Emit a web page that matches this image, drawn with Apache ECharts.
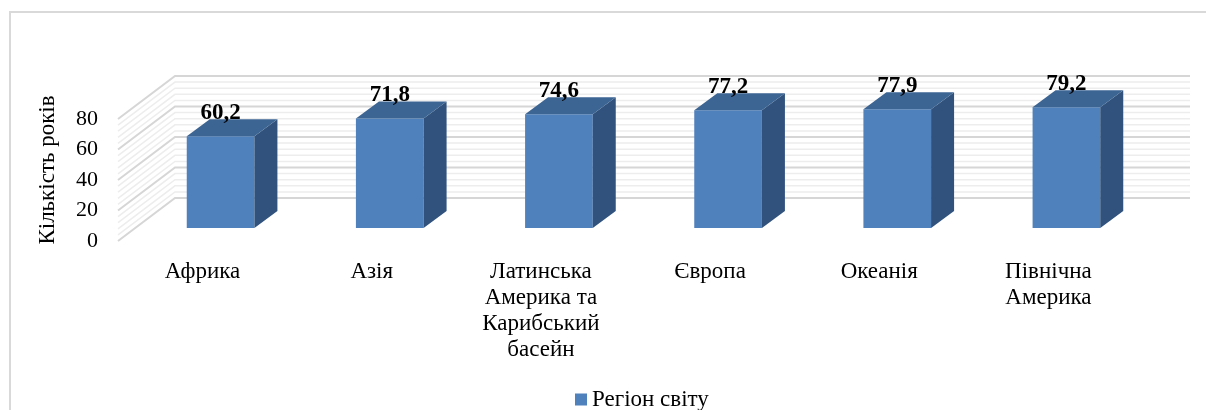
<!DOCTYPE html>
<html>
<head>
<meta charset="utf-8">
<script src="https://cdn.jsdelivr.net/npm/echarts@6/dist/echarts.min.js"></script>
<style>
  html, body { margin: 0; padding: 0; background: #fff; }
  #chart { width: 1206px; height: 410px; }
</style>
</head>
<body>
<div id="chart"></div>
<script>
// data
const categories = ['Африка', 'Азія', 'Латинська\nАмерика та\nКарибський\nбасейн', 'Європа', 'Океанія', 'Північна\nАмерика'];
const lifeYears = [60.2, 71.8, 74.6, 77.2, 77.9, 79.2];
const seriesName = 'Регіон світу';
const yTicks = [0, 20, 40, 60, 80];

// 3d look (pixels)
const WALL_DX = 57, WALL_DY = -43;     // front plane -> back wall
const FRONT_DX = 18, FRONT_DY = -13;   // front plane -> bar front face
const BAR_DX = 23, BAR_DY = -17;       // bar depth
const BAR_RATIO = 0.40;
const FRONT = '#4F81BD', SIDE = '#31527C', TOP = '#3C6593';
const FONT = '"Liberation Serif", "Times New Roman", serif';

const chart = echarts.init(document.getElementById('chart'));

// gridlines on the side and back walls (major on ticks, minor every 4)
const wallLines = [];
for (let v = 0; v <= 80; v += 4) wallLines.push([0, v]);

function renderWall(params, api) {
    const v = api.value(1);
    const p = api.coord([0, v]);
    const band = api.size([1, 0])[0];
    const left = p[0] - band / 2;
    const right = left + band * categories.length;
    const major = yTicks.indexOf(v) >= 0;
    return {
        type: 'polyline',
        shape: { points: [[left, p[1]], [left + WALL_DX, p[1] + WALL_DY], [right + WALL_DX, p[1] + WALL_DY]] },
        style: { stroke: major ? '#d6d6d6' : '#ededed', lineWidth: major ? 2 : 1.5, fill: null }
    };
}

function renderBar(params, api) {
    const i = api.value(0), v = api.value(1);
    const top = api.coord([i, v]);
    const base = api.coord([i, 0]);
    const band = api.size([1, 0])[0];
    const w = band * BAR_RATIO;
    const x0 = top[0] - w / 2 + FRONT_DX, x1 = x0 + w;
    const yT = top[1] + FRONT_DY, yB = base[1] + FRONT_DY;
    return {
        type: 'group',
        children: [
            { type: 'polygon', shape: { points: [[x0, yB], [x1, yB], [x1, yT], [x0, yT]] }, style: { fill: FRONT } },
            { type: 'polygon', shape: { points: [[x1, yB], [x1 + BAR_DX, yB + BAR_DY], [x1 + BAR_DX, yT + BAR_DY], [x1, yT]] }, style: { fill: SIDE } },
            { type: 'polygon', shape: { points: [[x0, yT], [x1, yT], [x1 + BAR_DX, yT + BAR_DY], [x0 + BAR_DX, yT + BAR_DY]] }, style: { fill: TOP } },
            {
                type: 'text',
                z2: 10,
                style: {
                    text: v.toFixed(1).replace('.', ','),
                    x: (x0 + x1) / 2, y: yT - 23,
                    align: 'center', verticalAlign: 'middle',
                    fontSize: 23, fontWeight: 'bold', fontFamily: FONT, fill: '#000'
                }
            }
        ]
    };
}

chart.setOption({
    animation: false,
    graphic: [{
        type: 'polyline',
        shape: { points: [[10, 420], [10, 12], [1220, 12]] },
        style: { stroke: '#d9d9d9', lineWidth: 2, fill: null }
    }],
    legend: {
        data: [seriesName],
        left: 570, top: 383,
        icon: 'rect', itemWidth: 12, itemHeight: 12, itemGap: 6,
        textStyle: { fontSize: 23, fontFamily: FONT, color: '#000' }
    },
    grid: { left: 118, top: 119, width: 1015, height: 122 },
    xAxis: {
        type: 'category',
        data: categories,
        axisLine: { show: false },
        axisTick: { show: false },
        axisLabel: { interval: 0, margin: 18, fontSize: 23, lineHeight: 26, fontFamily: FONT, color: '#000' }
    },
    yAxis: {
        type: 'value',
        min: 0, max: 80, interval: 20,
        name: 'Кількість років',
        nameLocation: 'middle', nameRotate: 90, nameGap: 59,
        nameTextStyle: { fontSize: 23, fontFamily: FONT, color: '#000', padding: [0, 0, 0, 20] },
        axisLine: { show: false },
        axisTick: { show: false },
        splitLine: { show: false },
        axisLabel: { margin: 20, fontSize: 22, fontFamily: FONT, color: '#000' }
    },
    series: [
        {
            type: 'custom',
            renderItem: renderWall,
            data: wallLines,
            silent: true,
            z: 1
        },
        {
            name: seriesName,
            type: 'custom',
            renderItem: renderBar,
            itemStyle: { color: FRONT },
            data: lifeYears.map((v, i) => [i, v]),
            z: 2
        }
    ]
});
</script>
</body>
</html>
